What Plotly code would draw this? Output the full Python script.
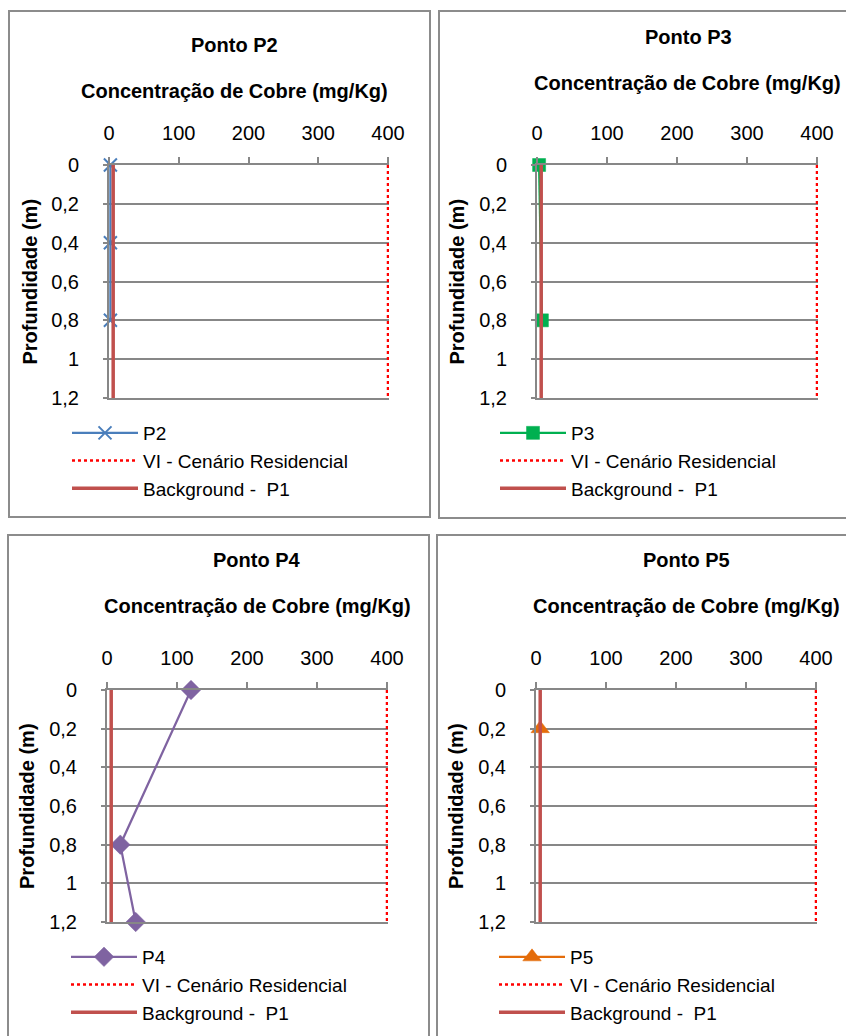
import plotly.graph_objects as go

W, H = 846, 1036

# ---------------- data ----------------
X_TICKS = [0, 100, 200, 300, 400]
X_TICK_LABELS = ["0", "100", "200", "300", "400"]
Y_TICKS = [0, 0.2, 0.4, 0.6, 0.8, 1.0, 1.2]
Y_TICK_LABELS = ["0", "0,2", "0,4", "0,6", "0,8", "1", "1,2"]

REF_DEPTH = [0, 1.2]
VI_RESIDENCIAL = [400, 400]
BACKGROUND_P1 = [6, 6]

P2_DEPTH = [0, 0.4, 0.8]
P2_CU = [2, 2, 2]
P3_DEPTH = [0, 0.8]
P3_CU = [3, 7]
P4_DEPTH = [0, 0.8, 1.2]
P4_CU = [120, 19, 41]
P5_DEPTH = [0.2]
P5_CU = [6]

SERIES_NAMES = ["P2", "P3", "P4", "P5"]
PANEL_TITLES = ["Ponto P2", "Ponto P3", "Ponto P4", "Ponto P5"]
X_TITLE = "Concentração de Cobre (mg/Kg)"
Y_TITLE = "Profundidade (m)"
VI_NAME = "VI - Cenário Residencial"
BG_NAME = "Background -  P1"

# ---------------- style / layout (pixels) ----------------
FONT = "Liberation Sans, Arial, sans-serif"
FS = 20
TFS = 20
LFS = 19
GRID = "#878787"
X_MAX = 401.5  # small headroom so the dotted limit line at 400 is not clipped
panels = [
    dict(depth=P2_DEPTH, cu=P2_CU, color="#4A7EBB", symbol="x-thin-open", msize=13, mline=2,
         px=(109, 388), py=(165, 398), tx=234, ty=45, atx=234, aty=91, ylx=30, lgx=67, lgy=414),
    dict(depth=P3_DEPTH, cu=P3_CU, color="#00B050", symbol="square", msize=13, mline=0,
         px=(537, 817), py=(165, 398), tx=688, ty=37, atx=687, aty=83, ylx=457, lgx=495, lgy=414),
    dict(depth=P4_DEPTH, cu=P4_CU, color="#7F63A1", symbol="diamond", msize=15, mline=0,
         px=(107, 387), py=(690, 922), tx=257, ty=560, atx=257, aty=606, ylx=27, lgx=66, lgy=938),
    dict(depth=P5_DEPTH, cu=P5_CU, color="#E46C0A", symbol="triangle-up", msize=16, mline=0,
         px=(536, 816), py=(690, 922), tx=686, ty=560, atx=686, aty=606, ylx=456, lgx=494, lgy=938),
]
borders = [(9, 11, 430, 517), (439, 11, 860, 518), (8, 535, 429, 1050), (437, 535, 860, 1050)]


def fx(p):
    return p / W


def fy(p):
    return 1 - p / H


fig = go.Figure()
layout = dict(
    width=W, height=H, margin=dict(l=0, r=0, t=0, b=0, pad=0, autoexpand=False),
    paper_bgcolor="white", plot_bgcolor="white",
    font=dict(family=FONT, size=FS, color="black"),
    showlegend=True, annotations=[], shapes=[],
)

for i, p in enumerate(panels):
    n = i + 1
    xa = "x" if n == 1 else f"x{n}"
    ya = "y" if n == 1 else f"y{n}"
    lg = "legend" if n == 1 else f"legend{n}"
    fig.add_trace(go.Scatter(
        x=p["cu"], y=p["depth"], xaxis=xa, yaxis=ya, legend=lg, name=SERIES_NAMES[i],
        mode="lines+markers", cliponaxis=False,
        line=dict(color=p["color"], width=2.25),
        marker=dict(symbol=p["symbol"], size=p["msize"], color=p["color"],
                    line=dict(color=p["color"], width=p["mline"] if p["mline"] else 0.5)),
    ))
    fig.add_trace(go.Scatter(
        x=VI_RESIDENCIAL, y=REF_DEPTH, xaxis=xa, yaxis=ya, legend=lg, name=VI_NAME,
        mode="lines", line=dict(color="#FF0000", width=2.5, dash="dot"),
    ))
    fig.add_trace(go.Scatter(
        x=BACKGROUND_P1, y=REF_DEPTH, xaxis=xa, yaxis=ya, legend=lg, name=BG_NAME,
        mode="lines", line=dict(color="#C0504D", width=3.5),
    ))

    x0p, x1p = p["px"]
    x1p_ext = x0p + (x1p - x0p) * X_MAX / 400.0
    xdom = [fx(x0p), fx(x1p_ext)]
    ydom = [fy(p["py"][1]), fy(p["py"][0])]
    layout["xaxis" if n == 1 else f"xaxis{n}"] = dict(
        domain=xdom, anchor=ya, side="top", range=[0, X_MAX], automargin=False,
        tickvals=X_TICKS, ticktext=X_TICK_LABELS, ticks="outside", ticklen=6,
        tickcolor=GRID, tickwidth=1.5, showline=True, linecolor=GRID, linewidth=2,
        mirror=True, showgrid=False, zeroline=False, ticklabelstandoff=9,
        tickfont=dict(size=TFS, family=FONT),
    )
    layout[f"xaxis{n + 4}"] = dict(
        domain=xdom, anchor=ya, overlaying=xa, side="top", range=[0, X_MAX], automargin=False,
        tickvals=X_TICKS, ticks="inside", ticklen=6, tickcolor=GRID, tickwidth=1.5,
        showticklabels=False, showline=False, showgrid=False, zeroline=False,
    )
    layout["yaxis" if n == 1 else f"yaxis{n}"] = dict(
        domain=ydom, anchor=xa, range=[1.2, 0], automargin=False,
        tickvals=Y_TICKS, ticktext=Y_TICK_LABELS, ticks="outside", ticklen=4,
        tickcolor=GRID, tickwidth=1.5, showline=True, linecolor=GRID, linewidth=2,
        showgrid=True, gridcolor=GRID, gridwidth=1.75, zeroline=False,
        ticklabelstandoff=20, tickfont=dict(size=TFS, family=FONT),
    )
    layout[lg] = dict(
        x=fx(p["lgx"]), y=fy(p["lgy"]), xanchor="left", yanchor="top",
        bgcolor="rgba(0,0,0,0)", borderwidth=0, itemwidth=66,
        font=dict(size=LFS, family=FONT), traceorder="normal",
    )
    layout["annotations"] += [
        dict(text="<b>%s</b>" % PANEL_TITLES[i], x=fx(p["tx"]), y=fy(p["ty"]),
             xref="paper", yref="paper", showarrow=False, xanchor="center", yanchor="middle",
             font=dict(size=FS, family=FONT)),
        dict(text="<b>%s</b>" % X_TITLE, x=fx(p["atx"]), y=fy(p["aty"]),
             xref="paper", yref="paper", showarrow=False, xanchor="center", yanchor="middle",
             font=dict(size=FS, family=FONT)),
        dict(text="<b>%s</b>" % Y_TITLE, x=fx(p["ylx"]), y=fy((p["py"][0] + p["py"][1]) / 2),
             xref="paper", yref="paper", showarrow=False, xanchor="center", yanchor="middle",
             textangle=-90, font=dict(size=FS, family=FONT)),
    ]

for (x0, y0, x1, y1) in borders:
    layout["shapes"].append(dict(
        type="rect", xref="paper", yref="paper", x0=fx(x0), x1=fx(x1), y0=fy(y1), y1=fy(y0),
        line=dict(color="#8C8C8C", width=2), fillcolor="rgba(0,0,0,0)", layer="below"))

fig.update_layout(**layout)
fig.write_html(
    "out.html",
    config={"displayModeBar": False},
    post_script="document.body.style.margin='0';document.body.style.padding='0';"
                "document.body.style.overflow='hidden';",
)
